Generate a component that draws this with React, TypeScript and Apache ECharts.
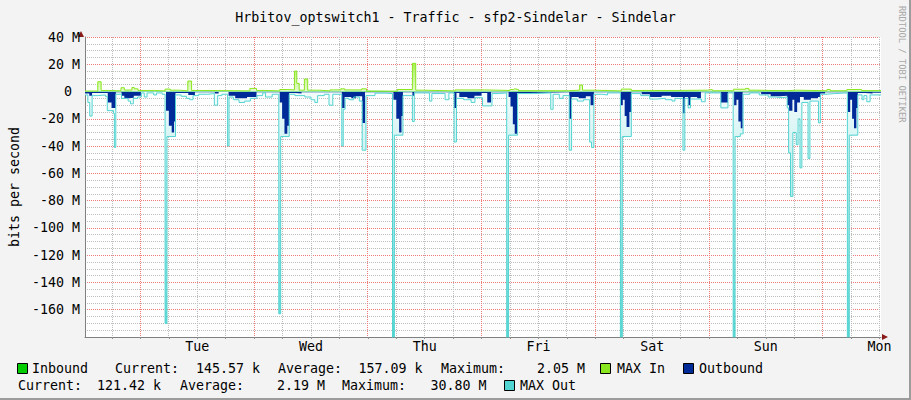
import React, { useEffect, useRef } from 'react';
import * as echarts from 'echarts';

const TITLE = 'Hrbitov_optswitch1 - Traffic - sfp2-Sindelar - Sindelar';
const Y_NAME = 'bits per second';
const CREDIT = 'RRDTOOL / TOBI OETIKER';
const DAY_NAMES = ['Tue', 'Wed', 'Thu', 'Fri', 'Sat', 'Sun', 'Mon'];
const DAY_HOURS = [24, 48, 72, 96, 120, 144, 168];

// [hours since Monday 00:00, Mbit/s]; each value holds until the next time
const maxOut = [
  [0.3, -2.5], [0.9, -8], [1.3, -18], [1.8, -3], [3.0, -2.5], [4.6, -3.5], [5.0, -14], [6.3, -16], [6.5, -41], [6.8, -2],
  [7.8, -1.5], [8.0, -5], [9.4, -7], [9.9, -9], [10.5, -5], [11.4, -4], [12.2, -1], [12.8, -4], [13.4, -1], [14.8, -2.5],
  [15.4, -1], [16.6, -2], [17.2, -170], [17.6, -33], [19.4, -2.5], [20.6, -3.5], [21.7, -5], [22.4, -6], [23.1, -3], [24.3, -2],
  [26.2, -1.5], [27.6, -10], [28.3, -3], [29.2, -2], [30.4, -40], [30.7, -4], [31.6, -6], [32.8, -8], [34.0, -7], [35.2, -5],
  [36.6, -3], [37.8, -1], [38.4, -4], [39.8, -2], [41.2, -163], [41.6, -33], [43.4, -2], [44.6, -3], [46.7, -4], [48.0, -6],
  [48.8, -8], [49.4, -3], [50.8, -2], [51.8, -10], [52.6, -2], [54.5, -40], [54.8, -13], [55.2, -5], [56.0, -6], [57.0, -4],
  [58.2, -7], [58.8, -43], [59.6, -3], [61.5, -1.2], [63.8, -1.5], [65.2, -190], [65.6, -32], [67.4, -3], [69.4, -22], [69.8, -1],
  [72.0, -1], [73.0, -7], [73.5, -1.5], [76.3, -6], [77.1, -1], [78.2, -37], [78.7, -5], [80.2, -6], [81.8, -8], [82.6, -4.5],
  [84.2, -10.5], [86.2, -1.5], [87.8, -1], [89.3, -190], [89.7, -32], [91.6, -1.5], [95.0, -1], [98.6, -13], [99.1, -2], [100.4, -5],
  [101.2, -3], [102.5, -43], [103.0, -5.5], [104.2, -7], [105.5, -6], [106.8, -37], [107.2, -41], [107.7, -2], [109.4, -2.5], [110.6, -1],
  [113.3, -190], [113.7, -33], [115.6, -1.5], [117.6, -3], [119.5, -5.5], [121.0, -5], [122.8, -6], [124.2, -7], [124.8, -5], [126.5, -43],
  [126.9, -5], [127.6, -12], [128.1, -5.5], [130.4, -7.5], [131.2, -1], [134.5, -12], [136.0, -1], [137.1, -190], [137.5, -33], [138.6, -31],
  [139.2, -2], [140.6, -1], [142.6, -2.5], [144.5, -4], [146.0, -4.5], [147.5, -4], [148.5, -12], [148.8, -45], [149.2, -77], [149.7, -30],
  [150.4, -39], [150.8, -20], [151.2, -56], [151.6, -8], [152.9, -49], [153.3, -7], [155.1, -23], [155.5, -2], [156.5, -1.5], [158.5, -1],
  [161.2, -190], [161.6, -32], [163.4, -2.5], [164.3, -6], [164.7, -3], [165.3, -7.5], [166.0, -2.5], [168.3, -2.5]
];

const outbound = [
  [0.3, -1.5], [1.2, -3], [1.8, -1], [5.1, -8], [5.9, -12], [6.8, -0.5], [8.0, -3], [8.6, -5], [9.6, -4.5], [10.6, -3],
  [12.1, -0.4], [17.4, -14], [18.0, -25], [18.6, -30], [19.1, -22], [19.4, -1], [22.1, -2.5], [23.5, -0.6], [27.7, -1.5], [28.5, -0.4],
  [30.6, -3], [32.0, -5], [34.5, -4], [36.5, -0.5], [41.4, -8], [41.9, -20], [42.4, -31], [43.0, -25], [43.4, -1], [44.6, -1.5],
  [46.0, -0.5], [54.5, -12], [55.1, -4], [56.5, -5], [57.5, -3.5], [58.8, -23], [59.4, -0.5], [65.4, -6], [66.0, -20], [66.6, -30],
  [67.1, -18], [67.4, -0.5], [69.4, -3], [69.8, -0.5], [78.2, -12], [78.7, -1], [79.3, -4], [81.0, -5], [82.5, -3], [84.0, -1],
  [85.2, -8], [86.0, -0.5], [89.7, -4], [90.1, -11], [90.6, -24], [91.0, -31], [91.5, -1], [94.0, -0.5], [102.5, -20], [103.0, -4],
  [104.5, -5], [106.0, -3.5], [107.0, -10], [107.7, -0.5], [113.4, -10], [113.8, -6], [114.2, -18], [114.6, -26], [115.2, -15], [115.6, -0.5],
  [117.8, -2], [119.5, -4], [122.0, -3], [124.0, -4], [126.5, -16], [126.9, -4], [127.6, -10], [128.1, -4], [129.5, -5], [130.3, -0.5],
  [134.5, -8], [136.0, -0.5], [137.3, -10], [137.8, -6], [138.2, -22], [138.7, -27], [139.1, -0.5], [143.0, -2], [145.0, -3.5], [147.0, -3],
  [148.5, -10], [148.9, -14], [149.6, -6], [150.0, -15], [150.6, -8], [151.2, -4], [152.0, -6], [153.5, -5], [155.0, -4], [155.5, -1.5],
  [156.5, -0.6], [161.3, -15], [161.8, -6], [162.2, -20], [162.6, -27], [163.1, -12], [163.4, -1], [165.0, -1.5], [166.5, -0.8], [168.3, -0.8]
];

const maxIn = [
  [0.3, 0.4], [3.0, 7.2], [3.7, 0.8], [5.2, 0.5], [7.9, 2.8], [8.6, 1.1], [10.2, 3], [10.7, 2], [11.5, 0.8], [15.0, 0.5],
  [17.2, 1.8], [18.3, 1], [20.2, 0.5], [22.0, 7.7], [22.8, 0.8], [25.0, 0.5], [35.1, 2.3], [36.5, 0.8], [38.5, 0.5], [41.4, 1.5],
  [43.1, 1.2], [44.5, 15], [45.0, 6], [45.5, 1], [46.6, 9.2], [47.3, 1], [49.7, 0.5], [52.0, 1.2], [54.3, 2], [55.1, 1.2],
  [58.7, 2], [59.7, 0.3], [66.2, 1.5], [69.4, 20.7], [70.1, 1], [71.5, 0.5], [78.4, 1.2], [84.7, 0.8], [90.0, 1.5], [90.7, 2],
  [91.0, 1.5], [91.8, 0.6], [102.4, 1], [104.7, 4.8], [105.3, 1], [107.5, 0.5], [113.5, 1.8], [115.6, 0.8], [125.0, 1], [131.7, 1.5],
  [132.7, 0.6], [137.2, 1.7], [139.7, 2.3], [140.4, 1], [142.0, 0.6], [148.3, 1], [150.5, 0.6], [156.9, 1.5], [157.6, 0.6], [161.1, 1.5],
  [164.2, 0.7], [168.3, 0.7]
];

const inbound = [
  [0.3, 0.2], [3.1, 1.5], [3.6, 0.3], [8.0, 0.8], [8.5, 0.3], [10.3, 1.0], [10.7, 0.3], [22.2, 1.2], [22.7, 0.3], [44.6, 1.8],
  [45.4, 0.3], [46.7, 2.2], [47.2, 0.3], [54.4, 0.8], [55.0, 0.3], [69.4, 1.0], [70.0, 0.3], [90.2, 0.8], [90.8, 0.3], [104.7, 1.0],
  [105.2, 0.3], [113.6, 0.6], [114.6, 0.3], [137.4, 0.6], [139.5, 0.8], [140.2, 0.3], [161.3, 0.6], [163.5, 0.3], [168.3, 0.3]
];

const STAT_LABELS = ['Current:', 'Average:', 'Maximum:'];
const INBOUND_STATS = ['145.57 k', '157.09 k', '2.05 M'];
const OUTBOUND_STATS = ['121.42 k', '2.19 M', '30.80 M'];
const SERIES_NAMES = ['Inbound', 'MAX In', 'Outbound', 'MAX Out'];

const C_IN = '#00cc00';
const C_MAXIN = '#8ae61e';
const C_OUT = '#002a97';
const C_MAXOUT = '#52d4d1';
const RED_GRID = '#f07a7a';
const GRAY_GRID = '#bdbdbd';
const FONT = 'DejaVu Sans Mono';
const FS = 13.3;

const X_MIN = 0.3, X_MAX = 168.3;
const Y_MIN = -180, Y_MAX = 40;

function txt(text: string, x: number, y: number, align: string = 'left') {
  return {
    type: 'text', x, y, silent: true,
    style: {
      text, fill: '#000', fontSize: FS, fontFamily: FONT,
      align, textAlign: align, verticalAlign: 'middle', textVerticalAlign: 'middle'
    }
  };
}
function box(x: number, y: number, color: string) {
  return { type: 'rect', shape: { x: x + 0.5, y: y + 0.5, width: 10, height: 10 }, style: { fill: color, stroke: '#000', lineWidth: 1 }, silent: true };
}

export default function App() {
  const ref = useRef<HTMLDivElement>(null);
  useEffect(() => {
    document.body.style.margin = '0';
    if (!ref.current) return;
    const chart = echarts.init(ref.current, undefined, { renderer: 'svg' });

    const gridHours: number[] = [];
    for (let h = 6; h <= 168; h += 6) gridHours.push(h);

    const r1 = 368, r2 = 385;
    const graphic: any[] = [
      { type: 'rect', shape: { x: 909, y: 0, width: 2, height: 400 }, style: { fill: '#9c9c9c' }, silent: true },
      { type: 'rect', shape: { x: 0, y: 398, width: 911, height: 2 }, style: { fill: '#9c9c9c' }, silent: true },
      { type: 'polygon', shape: { points: [[78, 37], [84, 37], [81, 31]] }, style: { fill: '#8b1a1a' }, silent: true },
      { type: 'polygon', shape: { points: [[882, 334], [882, 340], [888, 337]] }, style: { fill: '#8b1a1a' }, silent: true },
      {
        type: 'text', x: 902, y: 6, rotation: -Math.PI / 2, silent: true,
        style: {
          text: CREDIT, fill: '#a8a8a8', fontSize: 8.8, fontFamily: FONT,
          align: 'left', textAlign: 'left', verticalAlign: 'middle', textVerticalAlign: 'middle'
        }
      },
      box(17, r1 - 5, C_IN), txt(SERIES_NAMES[0], 32, r1),
      txt(STAT_LABELS[0], 115, r1), txt(INBOUND_STATS[0], 260, r1, 'right'),
      txt(STAT_LABELS[1], 278, r1), txt(INBOUND_STATS[1], 422.5, r1, 'right'),
      txt(STAT_LABELS[2], 441, r1), txt(INBOUND_STATS[2], 585, r1, 'right'),
      box(600, r1 - 5, C_MAXIN), txt(SERIES_NAMES[1], 617, r1),
      box(683, r1 - 5, C_OUT), txt(SERIES_NAMES[2], 699, r1),
      txt(STAT_LABELS[0], 18, r2), txt(OUTBOUND_STATS[0], 161, r2, 'right'),
      txt(STAT_LABELS[1], 180, r2), txt(OUTBOUND_STATS[1], 325, r2, 'right'),
      txt(STAT_LABELS[2], 342, r2), txt(OUTBOUND_STATS[2], 486.5, r2, 'right'),
      box(504, r2 - 5, C_MAXOUT), txt(SERIES_NAMES[3], 520, r2)
    ];

    const option: any = {
      animation: false,
      backgroundColor: '#f3f3f3',
      textStyle: { fontFamily: FONT },
      title: {
        text: TITLE, left: 'center', top: 6,
        textStyle: { fontFamily: FONT, fontSize: FS, fontWeight: 'normal', color: '#000' }
      },
      grid: { left: 81, top: 37, width: 800, height: 300, show: true, backgroundColor: '#ffffff', borderWidth: 0, containLabel: false },
      xAxis: {
        type: 'value', min: X_MIN, max: X_MAX,
        axisLine: { onZero: false, show: true, lineStyle: { color: '#808080', width: 1 } },
        axisTick: { show: true, customValues: gridHours, length: 2, lineStyle: { color: '#909090' } },
        axisLabel: {
          customValues: DAY_HOURS, margin: 3, fontFamily: FONT, fontSize: FS, color: '#000',
          formatter: (v: number) => DAY_NAMES[DAY_HOURS.indexOf(Math.round(v))] || ''
        },
        splitLine: { show: false }
      },
      yAxis: {
        type: 'value', min: Y_MIN, max: Y_MAX, interval: 20,
        name: Y_NAME, nameLocation: 'middle', nameGap: 64,
        nameTextStyle: { fontFamily: FONT, fontSize: FS, color: '#000' },
        axisLine: { show: true, lineStyle: { color: '#808080', width: 1 } },
        axisTick: { show: false },
        minorTick: { show: false, splitNumber: 4 },
        axisLabel: {
          margin: 5, fontFamily: FONT, fontSize: FS, color: '#000',
          formatter: (v: number) => (v === 0 ? '0\u00a0' : v <= -180 ? '' : `${v} M`)
        },
        splitLine: { show: true, lineStyle: { color: RED_GRID, width: 1, type: [1, 1] } },
        minorSplitLine: { show: true, lineStyle: { color: GRAY_GRID, width: 1, type: [1, 1] } }
      },
      series: [
        {
          name: 'time grid', type: 'custom', data: gridHours.map((h) => [h]), silent: true, z: 1,
          encode: { x: 0 },
          renderItem: (params: any, api: any) => {
            const h = api.value(0);
            const top = api.coord([h, Y_MAX]);
            const bot = api.coord([h, Y_MIN]);
            const x = Math.floor(top[0]) + 0.5;
            return {
              type: 'line', silent: true,
              shape: { x1: x, y1: top[1], x2: x, y2: bot[1] },
              style: { stroke: h % 24 === 12 ? RED_GRID : GRAY_GRID, lineWidth: 1, lineDash: [1, 1], fill: null }
            };
          }
        },
        {
          name: 'MAX Out area', type: 'line', step: 'end', data: maxOut, symbol: 'none', silent: true,
          lineStyle: { width: 0, opacity: 0 },
          areaStyle: {
            opacity: 1,
            color: new echarts.graphic.LinearGradient(0, 0, 0, 1, [
              { offset: 0, color: '#f4fcfc' },
              { offset: 1, color: '#4fd3d0' }
            ])
          },
          z: 2
        },
        {
          name: SERIES_NAMES[2], type: 'line', step: 'end', data: outbound, symbol: 'none', silent: true,
          lineStyle: { width: 0, opacity: 0 },
          areaStyle: { color: C_OUT, opacity: 1 },
          z: 3
        },
        {
          name: SERIES_NAMES[3], type: 'line', step: 'end', data: maxOut, symbol: 'none', silent: true,
          lineStyle: { width: 1, color: C_MAXOUT },
          markLine: {
            silent: true, symbol: 'none', label: { show: false },
            lineStyle: { color: '#45b6c8', width: 1, type: 'solid' },
            data: [{ yAxis: 0 }]
          },
          z: 4
        },
        {
          name: SERIES_NAMES[0], type: 'line', step: 'end', data: inbound, symbol: 'none', silent: true,
          lineStyle: { width: 0, opacity: 0 },
          areaStyle: { color: C_IN, opacity: 1 },
          z: 5
        },
        {
          name: SERIES_NAMES[1], type: 'line', step: 'end', data: maxIn, symbol: 'none', silent: true,
          lineStyle: { width: 1, color: C_MAXIN },
          areaStyle: {
            opacity: 1,
            color: new echarts.graphic.LinearGradient(0, 0, 0, 1, [
              { offset: 0, color: '#a6ee55' },
              { offset: 1, color: '#e6fad0' }
            ])
          },
          z: 6
        }
      ],
      graphic
    };
    chart.setOption(option);
    return () => chart.dispose();
  }, []);
  return <div ref={ref} style={{ width: 911, height: 400, background: '#f3f3f3' }} />;
}
